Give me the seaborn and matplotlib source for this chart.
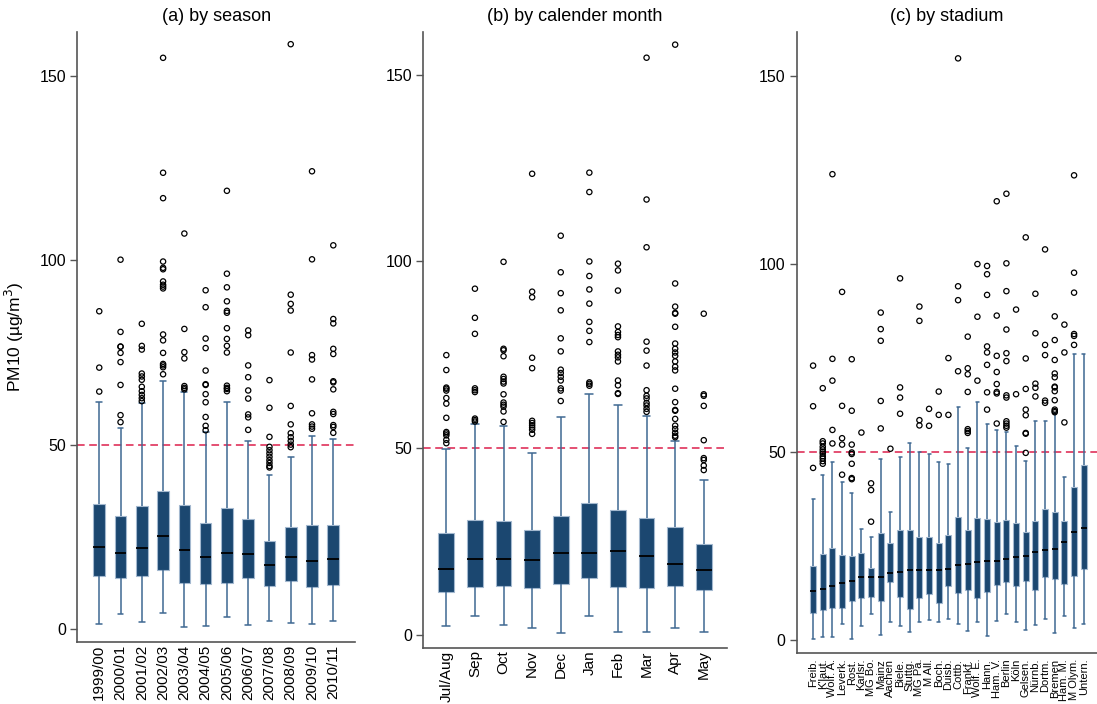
import numpy as np
import pandas as pd
import matplotlib
matplotlib.use('Agg')
import matplotlib.pyplot as plt
import seaborn as sns

# (a) by season: whisker low, Q1, median, Q3, whisker high, outliers
seasons = ['1999/00', '2000/01', '2001/02', '2002/03', '2003/04', '2004/05',
           '2005/06', '2006/07', '2007/08', '2008/09', '2009/10', '2010/11']
season_lo = [1.2, 4.1, 1.9, 4.4, 0.5, 0.8, 3.1, 1.0, 2.1, 1.5, 1.4, 2.1]
season_q1 = [14.4, 13.9, 14.4, 15.9, 12.5, 12.1, 12.4, 13.9, 11.5, 13.0, 11.4, 11.9]
season_med = [22.3, 20.6, 21.8, 25.2, 21.4, 19.4, 20.6, 20.4, 17.3, 19.5, 18.3, 19.0]
season_q3 = [34.0, 30.6, 33.3, 37.4, 33.5, 28.8, 32.7, 29.7, 23.9, 27.6, 28.3, 28.2]
season_hi = [61.6, 54.4, 61.2, 67.2, 64.2, 53.4, 61.6, 51.1, 41.7, 46.6, 52.4, 51.5]
season_out = [
    [64.4, 70.9, 86.2],
    [56.1, 58.0, 66.2, 72.4, 74.9, 76.6, 76.6, 80.6, 100.2],
    [61.8, 62.6, 63.5, 64.5, 65.7, 67.6, 68.5, 69.3, 75.8, 76.8, 82.8],
    [69.1, 71.0, 71.5, 71.9, 74.9, 78.3, 79.9, 92.4, 92.9, 93.4, 94.3, 97.6, 98.0, 99.7,
     116.9, 123.8, 155.0],
    [65.0, 65.4, 65.9, 73.4, 75.1, 81.4, 107.3],
    [53.9, 55.1, 57.5, 61.5, 63.7, 66.2, 66.4, 70.1, 76.2, 78.8, 87.3, 91.9],
    [64.5, 65.1, 65.4, 66.0, 75.0, 76.8, 78.7, 81.6, 85.8, 86.3, 88.9, 92.7, 96.4, 118.9],
    [54.0, 57.4, 58.2, 62.5, 64.7, 68.3, 71.5, 79.7, 81.0],
    [43.8, 44.2, 45.0, 45.8, 46.7, 47.6, 48.5, 49.4, 52.1, 60.0, 67.5],
    [49.3, 50.0, 51.0, 52.0, 53.1, 55.5, 60.5, 75.0, 86.4, 88.2, 90.7, 158.7],
    [54.3, 54.9, 55.5, 58.5, 67.7, 73.1, 74.3, 100.3, 124.2],
    [53.2, 54.8, 55.3, 58.3, 58.9, 65.0, 66.9, 67.2, 74.6, 76.0, 82.9, 84.1, 104.1],
]

# (b) by calender month
months = ['Jul/Aug', 'Sep', 'Oct', 'Nov', 'Dec', 'Jan', 'Feb', 'Mar', 'Apr', 'May']
month_lo = [2.4, 4.9, 2.7, 1.9, 0.5, 4.9, 0.7, 0.6, 1.9, 0.8]
month_q1 = [11.4, 12.8, 13.1, 12.5, 13.6, 15.3, 12.7, 12.5, 12.9, 12.0]
month_med = [17.6, 20.3, 20.2, 20.1, 21.9, 21.8, 22.5, 21.0, 18.9, 17.3]
month_q3 = [27.2, 30.6, 30.4, 28.1, 31.7, 35.4, 33.4, 31.3, 28.8, 24.4]
month_hi = [49.7, 56.4, 55.9, 48.8, 58.2, 64.6, 61.4, 58.7, 52.0, 41.5]
month_out = [
    [51.3, 52.2, 53.4, 53.9, 54.3, 58.1, 61.9, 63.4, 65.4, 65.9, 66.2, 70.9, 74.9],
    [57.1, 57.5, 57.9, 65.0, 65.5, 66.0, 80.6, 84.9, 92.7],
    [57.0, 59.8, 61.1, 61.6, 62.2, 64.4, 67.3, 67.8, 68.5, 69.1, 74.6, 76.2, 76.6, 99.9],
    [53.8, 54.9, 55.5, 56.1, 56.7, 57.3, 71.4, 74.2, 90.4, 91.9, 123.5],
    [62.6, 65.4, 66.0, 68.1, 69.1, 70.1, 71.0, 75.9, 79.4, 86.9, 91.5, 97.1, 106.9],
    [66.7, 67.2, 67.6, 78.4, 81.4, 83.8, 88.7, 92.5, 96.1, 100.0, 118.6, 123.8],
    [64.5, 64.7, 66.8, 68.1, 73.2, 74.3, 75.0, 75.9, 79.7, 80.3, 81.1, 82.6, 92.2, 97.6, 99.4],
    [59.7, 60.5, 61.4, 62.1, 63.3, 64.0, 65.5, 72.1, 76.1, 78.5, 103.8, 116.6, 154.6],
    [52.9, 53.3, 54.1, 55.1, 56.0, 57.8, 60.0, 60.2, 62.3, 65.9, 70.8, 71.8, 73.2, 74.7,
     75.6, 76.6, 78.0, 82.5, 86.0, 86.2, 87.9, 94.1, 158.1],
    [44.1, 45.3, 46.8, 47.3, 52.1, 61.3, 64.0, 64.4, 86.0],
]

# (c) by stadium
stadiums = ['Freib.', "K'laut.", 'Wolf. A.', 'Leverk.', 'Rost.', 'Karlsr.', 'MG Bo.', 'Mainz',
            'Aachen', 'Biele.', 'Stuttg.', 'MG Pa.', 'M All.', 'Boch.', 'Duisb.', 'Cottb.',
            'Frankf.', 'Wolf. E.', 'Hann.', 'Ham. V.', 'Berlin', 'Köln', 'Gelsen.', 'Nürnb.',
            'Dortm.', 'Bremen', 'Ham. M.', 'M Olym.', 'Untern.']
stadium_lo = [0.4, 0.8, 0.8, 4.4, 0.4, 3.7, 6.9, 1.3, 4.9, 3.7, 2.2, 4.9, 5.3, 4.9, 5.5,
              4.3, 2.4, 4.9, 1.2, 5.1, 6.9, 4.9, 2.8, 4.1, 5.7, 2.0, 6.5, 3.1, 4.2]
stadium_q1 = [7.3, 8.1, 8.6, 8.6, 10.3, 11.3, 11.4, 10.5, 15.5, 11.5, 8.2, 11.3, 12.2, 9.8,
              14.4, 12.6, 13.3, 11.3, 12.9, 14.7, 15.4, 14.5, 15.8, 13.4, 16.8, 16.3, 14.8,
              17.0, 18.9]
stadium_med = [13.0, 13.5, 14.5, 15.2, 15.6, 16.7, 16.7, 16.8, 17.8, 18.1, 18.6, 18.6, 18.6,
               18.6, 18.8, 19.9, 20.2, 20.8, 21.0, 21.1, 21.6, 22.0, 22.3, 23.4, 24.0, 24.2,
               26.2, 28.7, 29.7]
stadium_q3 = [19.7, 22.9, 24.4, 22.7, 22.3, 23.2, 19.1, 28.5, 25.8, 29.4, 29.3, 27.5, 27.5,
              25.7, 27.9, 32.7, 29.3, 32.4, 32.3, 31.5, 31.9, 31.2, 28.7, 31.6, 35.0, 34.2,
              31.7, 40.8, 46.5]
stadium_hi = [37.6, 43.9, 47.4, 42.1, 39.0, 29.5, 27.5, 48.3, 34.0, 48.6, 52.3, 50.1, 49.6,
              47.5, 46.9, 62.0, 51.2, 63.4, 57.4, 55.9, 55.4, 51.6, 47.7, 58.2, 58.3, 60.3,
              43.4, 76.0, 76.2]
stadium_out = [
    [45.8, 62.2, 73.0],
    [46.9, 47.6, 48.3, 48.9, 49.6, 50.1, 50.7, 51.4, 52.3, 52.9, 67.0],
    [52.3, 55.9, 69.0, 74.8, 123.9],
    [44.0, 52.0, 53.7, 62.3, 92.6],
    [42.8, 43.1, 46.9, 49.5, 49.9, 52.0, 61.0, 74.7],
    [55.2],
    [31.5, 39.9, 41.7],
    [56.3, 63.6, 79.6, 82.7, 87.1],
    [50.9],
    [60.2, 64.5, 67.2, 96.2],
    [],
    [57.1, 58.5, 84.9, 88.7],
    [57.0, 61.5],
    [59.9, 66.1],
    [59.9, 75.0],
    [71.5, 90.4, 94.1, 154.7],
    [55.1, 55.6, 56.1, 66.0, 70.7, 72.3, 80.7],
    [69.0, 86.0, 100.0],
    [61.3, 65.9, 73.2, 76.5, 78.1, 91.8, 97.3, 99.5],
    [57.6, 65.6, 66.0, 68.1, 71.3, 75.6, 86.3, 116.7],
    [56.5, 57.0, 57.6, 58.2, 64.5, 65.1, 74.2, 76.3, 82.6, 92.8, 100.2, 118.7],
    [65.4, 87.9],
    [49.8, 54.9, 55.1, 59.8, 61.3, 66.8, 74.9, 107.1],
    [64.8, 67.1, 68.2, 81.6, 92.1],
    [63.1, 63.7, 75.8, 78.5, 103.9],
    [60.6, 60.9, 61.3, 63.8, 66.2, 67.2, 67.4, 69.9, 70.9, 74.5, 79.8, 86.1],
    [57.9, 76.5, 83.9],
    [78.5, 80.9, 81.4, 92.4, 97.7, 123.6],
    [],
]

limit_value = 50

BOX_FILL = '#1b4770'
BOX_EDGE = '#a3b8cf'
WHISKER = '#3f6892'

sns.set_theme(style='ticks')
plt.rcParams['font.family'] = ['Liberation Sans', 'DejaVu Sans']
plt.rcParams['text.color'] = 'black'
plt.rcParams['axes.labelcolor'] = 'black'


def draw_panel(ax, labels, lo, q1, med, q3, hi, outliers, width, title, ylim, xlim, xfont, xpad):
    # five numbers per group -> seaborn quartiles land exactly on them, whiskers at min/max
    box_df = pd.DataFrame({
        'group': np.repeat(labels, 5),
        'pm10': np.column_stack([lo, q1, med, q3, hi]).ravel(),
    })
    sns.boxplot(data=box_df, x='group', y='pm10', order=labels, ax=ax,
                whis=(0, 100), width=width, color=BOX_FILL, saturation=1,
                linecolor=WHISKER, linewidth=1.0, showfliers=False,
                boxprops={'edgecolor': BOX_EDGE, 'linewidth': 0.8},
                medianprops={'color': 'black', 'linewidth': 1.3},
                whiskerprops={'color': WHISKER, 'linewidth': 1.1},
                capprops={'color': WHISKER, 'linewidth': 1.1})

    fl_groups, fl_vals = [], []
    for lab, vals in zip(labels, outliers):
        fl_groups += [lab] * len(vals)
        fl_vals += vals
    fl_df = pd.DataFrame({'group': pd.Categorical(fl_groups, categories=labels), 'pm10': fl_vals})
    sns.stripplot(data=fl_df, x='group', y='pm10', order=labels, ax=ax, jitter=False,
                  color='black', facecolor='none', edgecolor='black', linewidth=0.9,
                  size=3.8, marker='o', zorder=4)

    ax.axhline(limit_value, color='#dc1f4c', lw=1.1, dashes=(5, 3), zorder=0.5)

    ax.set_ylim(*ylim)
    ax.set_xlim(*xlim)
    ax.set_yticks([0, 50, 100, 150])
    ax.set_xlabel('')
    ax.set_ylabel('')
    ax.set_title(title, fontsize=13, pad=8, color='black')
    ax.tick_params(axis='x', length=0, pad=xpad, labelsize=xfont, rotation=90, labelcolor='black')
    ax.tick_params(axis='y', length=5, width=1, color='#555555', labelsize=11.5, pad=3,
                   labelcolor='black')
    for side in ['left', 'bottom']:
        ax.spines[side].set_color('#555555')
        ax.spines[side].set_linewidth(1.2)
    sns.despine(ax=ax)


fig = plt.figure(figsize=(10.97, 7.04), dpi=100)
ax_a = fig.add_axes([0.0705, 0.0885, 0.2531, 0.866])
ax_b = fig.add_axes([0.386, 0.080, 0.2764, 0.8746])
ax_c = fig.add_axes([0.7263, 0.072, 0.2735, 0.8825])

draw_panel(ax_a, seasons, season_lo, season_q1, season_med, season_q3, season_hi, season_out,
           0.55, '(a) by season', (-3.5, 162), (-1.03, 12.02), 11, 2)
draw_panel(ax_b, months, month_lo, month_q1, month_med, month_q3, month_hi, month_out,
           0.55, '(b) by calender month', (-3.5, 161.5), (-0.8, 9.8), 11, 2)
draw_panel(ax_c, stadiums, stadium_lo, stadium_q1, stadium_med, stadium_q3, stadium_hi,
           stadium_out, 0.62, '(c) by stadium', (-3.5, 161.7), (-1.69, 29.35), 8.0, 4)

ax_a.set_ylabel('PM10 (µg/m$^3$)', fontsize=12.5, labelpad=10)

fig.savefig('out.png', dpi=100, facecolor='white')
